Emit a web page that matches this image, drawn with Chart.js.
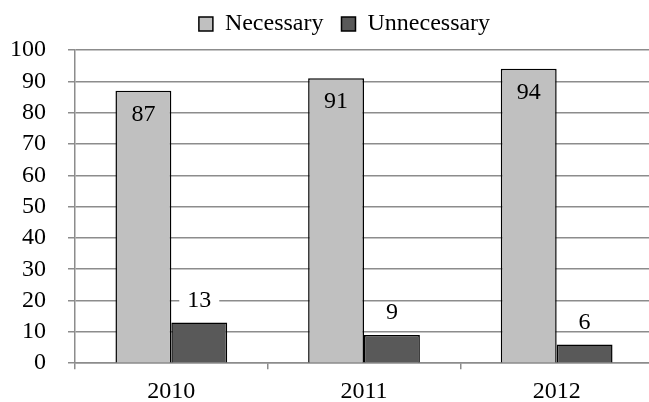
<!DOCTYPE html>
<html>
<head>
<meta charset="utf-8">
<script src="https://cdn.jsdelivr.net/npm/chart.js@4/dist/chart.umd.min.js"></script>
<style>
  html, body { margin: 0; padding: 0; background: #fff; overflow: hidden; }
  #wrap { width: 686px; height: 402px; }
</style>
</head>
<body>
<div id="wrap"><canvas id="barChart"></canvas></div>
<script>
// values
const years = ['2010', '2011', '2012'];
const necessary = [87, 91, 94];
const unnecessary = [13, 9, 6];
const yTicks = [0, 10, 20, 30, 40, 50, 60, 70, 80, 90, 100];

const serif = 'Liberation Serif';

// draws the number on each bar: inside the top for the first series, above for the second
const valueLabels = {
  id: 'valueLabels',
  afterLayout(chart) {
    // legend in the original sits a bit right of centre and close to the top
    chart.legend.left += 24;
    chart.legend.right += 24;
    chart.legend.top -= 4;
    chart.legend.bottom -= 4;
  },
  afterDatasetsDraw(chart) {
    const ctx = chart.ctx;
    ctx.save();
    ctx.font = '24px "' + serif + '"';
    ctx.textAlign = 'center';
    ctx.textBaseline = 'middle';
    chart.data.datasets.forEach((ds, i) => {
      chart.getDatasetMeta(i).data.forEach((bar, j) => {
        const txt = String(ds.data[j]);
        let y;
        if (i === 0) {
          y = bar.y + 24;
        } else {
          y = bar.y - 22;
          const w = ctx.measureText(txt).width + 16;
          ctx.fillStyle = '#fff';
          ctx.fillRect(bar.x - w / 2, y - 8, w, 16);
        }
        ctx.fillStyle = '#000';
        ctx.fillText(txt, bar.x, y);
      });
    });
    ctx.restore();
  }
};

const data = {
  labels: years,
  datasets: [{
    label: 'Necessary',
    data: necessary,
    backgroundColor: '#c0c0c0',
    borderColor: '#000',
    borderWidth: 1.5
  }, {
    label: 'Unnecessary',
    data: unnecessary,
    backgroundColor: '#595959',
    borderColor: '#000',
    borderWidth: 1.5
  }]
};

const config = {
  type: 'bar',
  data: data,
  plugins: [valueLabels],
  options: {
    responsive: true,
    maintainAspectRatio: false,
    animation: false,
    datasets: {
      bar: { barPercentage: 1, categoryPercentage: 0.58 }
    },
    layout: { padding: { left: -12, right: 33, top: -2, bottom: -12 } },
    plugins: {
      tooltip: { enabled: false },
      legend: {
        position: 'top',
        labels: {
          boxWidth: 14,
          boxHeight: 14,
          padding: 18,
          color: '#000',
          font: { family: serif, size: 24 }
        }
      }
    },
    scales: {
      x: {
        grid: {
          offset: true,
          drawOnChartArea: false,
          drawTicks: true,
          tickLength: 6,
          color: '#8c8c8c',
          lineWidth: 1.5
        },
        border: { display: true, color: '#8c8c8c', width: 1.5 },
        ticks: {
          color: '#000',
          padding: 8,
          font: { family: serif, size: 24 }
        }
      },
      y: {
        min: 0,
        max: 100,
        afterBuildTicks: axis => { axis.ticks = yTicks.map(v => ({ value: v })); },
        grid: {
          color: '#8c8c8c',
          lineWidth: 1.5,
          tickLength: 7
        },
        border: { display: true, color: '#8c8c8c', width: 1.5 },
        ticks: {
          color: '#000',
          padding: 22,
          autoSkip: false,
          font: { family: serif, size: 24 }
        }
      }
    }
  }
};

var BarChart = new Chart(document.getElementById('barChart'), config);
</script>
</body>
</html>
